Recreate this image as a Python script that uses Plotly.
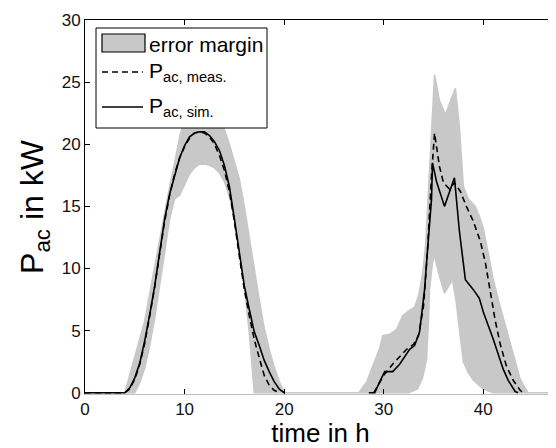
import plotly.graph_objects as go

# day 1 + day 2, simulated AC power (kW)
t_sim = [0, 4, 4.5, 5, 5.5, 6, 6.5, 7, 7.5, 8, 8.5, 9, 9.5, 10, 10.5, 11, 11.5, 12,
         12.5, 13, 13.5, 14, 14.5, 15, 15.5, 16, 16.5, 17, 17.5, 18, 18.5, 19, 19.5, 20,
         None,
         28.5, 29.1, 29.6, 30.1, 30.9, 31.6, 32.6, 33.1, 33.6, 34.1, 34.4, 34.8, 34.9,
         35.3, 36.1, 37.1, 37.6, 38.2, 39.0, 39.6, 40.0, 41.0, 42.0, 42.5, 43.2, 43.5]
p_sim = [0, 0, 0.4, 1.2, 2.4, 4.2, 6.3, 8.6, 11.3, 14.0, 16.0, 17.5, 18.9, 19.9, 20.6, 20.9, 21.0, 21.0,
         20.7, 20.2, 19.5, 18.3, 16.6, 14.0, 11.3, 8.6, 6.7, 4.9, 3.8, 2.6, 1.7, 0.9, 0.3, 0,
         None,
         0, 0, 0.9, 1.7, 1.7, 2.3, 3.5, 3.8, 4.9, 8.3, 11.5, 15.6, 18.5,
         17.0, 15.0, 17.3, 13.0, 9.1, 8.3, 7.6, 6.5, 4.3, 1.9, 1.0, 0.1, 0]

# measured AC power (kW)
t_meas = [0, 4, 4.5, 5, 5.5, 6, 6.5, 7, 7.5, 8, 8.5, 9, 9.5, 10, 10.5, 11, 11.5, 12,
          12.5, 13, 13.5, 14, 14.5, 15, 15.5, 16, 16.5, 17, 17.5, 18, 18.5, 19, 19.5,
          None,
          29.0, 29.4, 30.0, 30.5, 31.0, 31.6, 32.3, 33.0, 33.5, 34.0, 34.4, 34.8, 35.1,
          35.6, 36.0, 36.6, 37.1, 37.7, 38.3, 39.0, 39.7, 40.2, 40.7, 41.2, 41.7, 42.3,
          43.0, 43.7, 44.0]
p_meas = [0, 0, 0.3, 1.1, 2.3, 4.0, 6.2, 8.5, 11.2, 13.8, 15.9, 17.6, 18.9, 19.8, 20.5, 20.9, 21.0, 20.9,
          20.6, 20.0, 19.1, 17.9, 16.2, 13.8, 11.0, 8.3, 6.2, 4.3, 2.8, 1.4, 0.6, 0.2, 0,
          None,
          0, 0.6, 1.4, 1.9, 2.4, 2.9, 3.5, 3.9, 4.6, 7.0, 11.5, 17.5, 20.9,
          18.2, 16.9, 16.4, 16.9, 16.2, 15.0, 13.8, 12.2, 10.5, 8.2, 5.8, 3.9, 2.2,
          1.0, 0.2, 0]

# error margin, upper bound
t_hi = [4, 4.5, 5, 5.5, 6, 6.5, 7, 7.5, 8, 8.5, 9, 9.5, 10, 10.5, 11, 11.5, 12,
        12.5, 13, 13.5, 14, 14.5, 15, 15.5, 16, 16.5, 17, 17.5, 18, 18.5, 19, 19.5, 20,
        27.5, 28.3, 29.0, 29.6, 29.9, 30.6, 31.3, 31.9, 32.5, 33.1, 33.5, 33.9, 34.2,
        34.4, 34.7, 34.9, 35.1, 35.6, 36.2, 36.7, 37.2, 37.6, 38.0, 38.5, 39.2, 39.7,
        40.0, 40.5, 41.0, 41.6, 42.3, 43.0, 43.7, 44.5, 48]
p_hi = [0, 1.4, 2.8, 4.2, 5.8, 8.0, 10.2, 12.5, 14.6, 16.6, 18.5, 20.6, 22.0, 23.0, 23.6, 23.9, 23.8,
        23.4, 22.8, 22.0, 21.2, 20.0, 18.5, 17.2, 15.0, 12.5, 9.8, 7.5, 5.2, 3.5, 2.1, 0.9, 0,
        0, 0.9, 2.4, 3.6, 4.6, 4.7, 5.1, 6.2, 6.6, 6.9, 7.8, 9.6, 11.8,
        15.0, 20.0, 23.5, 25.6, 23.5, 22.4, 23.5, 24.5, 21.4, 16.6, 15.6, 15.0, 14.0,
        13.2, 11.2, 9.1, 7.2, 5.1, 3.0, 1.1, 0, 0]

# error margin, lower bound
t_lo = [4, 5, 5.5, 6, 6.5, 7, 7.5, 8, 8.5, 9, 9.5, 10, 10.5, 11, 11.5, 12,
        12.5, 13, 13.5, 14, 14.5, 15, 15.5, 16, 16.5, 17,
        32.5, 33.4, 33.9, 34.3, 34.5, 34.6, 34.9, 35.1, 35.6, 36.1, 36.5, 36.9, 37.3,
        37.6, 38.0, 38.5, 39.0, 40.0, 41.0, 48]
p_lo = [0, 0, 0.8, 2.0, 3.8, 6.0, 8.6, 11.3, 14.0, 15.6, 15.9, 16.8, 17.6, 18.1, 18.4, 18.4,
        18.3, 18.1, 17.7, 17.0, 15.8, 14.0, 11.5, 8.6, 4.8, 0,
        0, 0.3, 1.2, 2.7, 5.9, 8.3, 10.5, 11.0, 9.4, 8.0, 8.6, 9.1, 7.2,
        5.1, 2.5, 1.6, 1.0, 0.3, 0, 0]

legend_labels = ["error margin", "P<sub>ac, meas.</sub>", "P<sub>ac, sim.</sub>"]

band_grey = "#c8c8c8"
font = "Liberation Sans, Arial, sans-serif"

# page body has an 8px margin, so the figure is a bit smaller than the window
W, H = 548, 440
L, R, T, B = 77, 0, 12, 54
pw, ph = W - L - R, H - T - B


def px(x):
    return (x - L) / pw


def py(y):
    return (H - B - y) / ph


fig = go.Figure()

# shaded band: upper bound forward, lower bound back
fig.add_trace(go.Scatter(
    x=t_hi + t_lo[::-1], y=p_hi + p_lo[::-1],
    fill="toself", fillcolor=band_grey, mode="lines",
    line=dict(color=band_grey, width=1.5),
    showlegend=False, hoverinfo="skip"))

fig.add_trace(go.Scatter(
    x=t_meas, y=p_meas, mode="lines", connectgaps=False,
    line=dict(color="black", width=1.6, dash="6px,4px"),
    showlegend=False))

fig.add_trace(go.Scatter(
    x=t_sim, y=p_sim, mode="lines", connectgaps=False,
    line=dict(color="black", width=1.6),
    showlegend=False))

# dummy trace so the top axis gets drawn
fig.add_trace(go.Scatter(x=[None], y=[None], xaxis="x2", showlegend=False))

# hand-made legend, MATLAB style
shapes = [
    dict(type="rect", xref="paper", yref="paper",
         x0=px(88), x1=px(259), y0=py(120), y1=py(20),
         fillcolor="white", line=dict(color="black", width=1)),
    dict(type="rect", xref="paper", yref="paper",
         x0=px(94), x1=px(137), y0=py(44), y1=py(26),
         fillcolor=band_grey, line=dict(color="black", width=1.2)),
    dict(type="line", xref="paper", yref="paper",
         x0=px(94), x1=px(135), y0=py(64), y1=py(64),
         line=dict(color="black", width=1.6, dash="6px,4px")),
    dict(type="line", xref="paper", yref="paper",
         x0=px(94), x1=px(135), y0=py(99), y1=py(99),
         line=dict(color="black", width=1.6)),
]
label_y = [36, 64, 99]
annotations = [
    dict(text=txt, xref="paper", yref="paper", x=px(139), y=py(yy),
         xanchor="left", yanchor="middle", showarrow=False,
         font=dict(family=font, size=21, color="black"))
    for txt, yy in zip(legend_labels, label_y)
]

axis_font = dict(family=font, size=17, color="#111")

fig.update_layout(
    width=W, height=H,
    margin=dict(l=L, r=R, t=T, b=B),
    paper_bgcolor="white", plot_bgcolor="white",
    font=dict(family=font, color="black"),
    showlegend=False,
    shapes=shapes, annotations=annotations,
    xaxis=dict(range=[0, 47.3], tickvals=[0, 10, 20, 30, 40],
               showgrid=False, zeroline=False,
               showline=True, linecolor="#bdbdbd", linewidth=1,
               ticks="inside", ticklen=5, tickcolor="black",
               tickfont=axis_font,
               title=dict(text="time in h", font=dict(family=font, size=26), standoff=0)),
    xaxis2=dict(overlaying="x", matches="x", side="top", anchor="y",
                tickvals=[0, 10, 20, 30, 40], showticklabels=False,
                showgrid=False, zeroline=False,
                showline=True, linecolor="black", linewidth=1,
                ticks="inside", ticklen=5, tickcolor="black"),
    yaxis=dict(range=[-0.1, 30], tickvals=[0, 5, 10, 15, 20, 25, 30],
               showgrid=False, zeroline=False,
               showline=True, linecolor="black", linewidth=1,
               ticks="inside", ticklen=5, tickcolor="black",
               tickfont=axis_font,
               title=dict(text="P<sub>ac</sub> in kW", font=dict(family=font, size=32), standoff=8)),
)

fig.write_html("out.html")
